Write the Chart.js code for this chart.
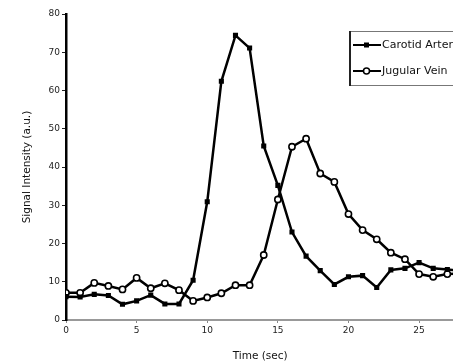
<!DOCTYPE html>
<html>
<head>
<meta charset="utf-8">
<script src="https://cdn.jsdelivr.net/npm/chart.js@4/dist/chart.umd.min.js"></script>
<style>
  html, body { margin: 0; padding: 0; background: #fff; overflow: hidden; }
  #wrap { width: 460px; height: 363px; position: relative; }
</style>
</head>
<body>
<div id="wrap"><canvas id="signal-chart"></canvas></div>
<script>
const timeSec = [0, 1, 2, 3, 4, 5, 6, 7, 8, 9, 10, 11, 12, 13, 14, 15, 16, 17, 18, 19, 20, 21, 22, 23, 24, 25, 26, 27, 28];
const carotid = [6.1, 6.0, 6.7, 6.4, 4.1, 5.0, 6.5, 4.2, 4.2, 10.4, 30.9, 62.4, 74.4, 71.1, 45.5, 35.2, 23.0, 16.7, 12.9, 9.3, 11.3, 11.6, 8.5, 13.1, 13.5, 15.0, 13.5, 13.2, 12.8];
const jugular = [7.1, 7.1, 9.7, 8.9, 8.0, 11.0, 8.3, 9.6, 7.8, 5.0, 5.9, 7.0, 9.1, 9.1, 17.0, 31.5, 45.3, 47.4, 38.3, 36.1, 27.7, 23.5, 21.1, 17.6, 15.9, 12.0, 11.3, 12.0, 12.2];
const xTicks = [0, 5, 10, 15, 20, 25];
const yTicks = [0, 10, 20, 30, 40, 50, 60, 70, 80];
const seriesNames = ["Carotid Artery", "Jugular Vein"];

const FONT = "'DejaVu Sans', Verdana, sans-serif";
const toPoints = vals => vals.map((v, i) => ({ x: timeSec[i], y: v }));

// legend box drawn by hand so it can run off the right edge
const boxLegend = {
  id: "boxLegend",
  afterDraw(chart) {
    const c = chart.ctx;
    const left = 349, top = 31, bottom = 85;
    c.save();
    c.fillStyle = "#fff";
    c.fillRect(left, top, 200, bottom - top);
    c.strokeStyle = "#777";
    c.lineWidth = 1;
    c.strokeRect(left + 0.5, top + 0.5, 200, bottom - top);
    c.strokeStyle = "#222";
    c.lineWidth = 2;
    c.beginPath();
    c.moveTo(left + 1, top);
    c.lineTo(left + 1, bottom + 1);
    c.stroke();
    chart.data.datasets.forEach((ds, i) => {
      const y = 45 + i * 26;
      c.strokeStyle = "#000";
      c.lineWidth = 2;
      c.beginPath();
      c.moveTo(353, y);
      c.lineTo(381, y);
      c.stroke();
      if (i === 0) {
        c.fillStyle = "#000";
        c.fillRect(364, y - 2.5, 5, 5);
      } else {
        c.fillStyle = "#fff";
        c.lineWidth = 1.5;
        c.beginPath();
        c.arc(366.5, y, 3, 0, Math.PI * 2);
        c.fill();
        c.stroke();
      }
      c.fillStyle = "#111";
      c.font = "11px " + FONT;
      c.textBaseline = "middle";
      c.fillText(ds.label, 382, y + 0.5);
    });
    c.restore();
  }
};

new Chart(document.getElementById("signal-chart"), {
  type: "line",
  data: {
    datasets: [
      {
        label: seriesNames[0],
        data: toPoints(carotid),
        borderColor: "#000",
        borderWidth: 2.5,
        pointStyle: "rect",
        pointRadius: 3.6,
        pointBackgroundColor: "#000",
        pointBorderWidth: 0,
        tension: 0
      },
      {
        label: seriesNames[1],
        data: toPoints(jugular),
        borderColor: "#000",
        borderWidth: 2.5,
        pointStyle: "circle",
        pointRadius: 3.1,
        pointBackgroundColor: "#fff",
        pointBorderColor: "#000",
        pointBorderWidth: 1.6,
        tension: 0
      }
    ]
  },
  options: {
    responsive: true,
    maintainAspectRatio: false,
    animation: false,
    layout: { padding: { top: 14, right: 0, left: 0, bottom: 0 } },
    plugins: { legend: { display: false }, tooltip: { enabled: false } },
    scales: {
      x: {
        type: "linear",
        min: 0,
        max: 27.5,
        afterBuildTicks: s => { s.ticks = xTicks.map(v => ({ value: v })); },
        afterFit: s => { s.height = 43; },
        grid: { drawOnChartArea: false, drawTicks: true, tickLength: 3, color: "#888", lineWidth: 1 },
        border: { color: "#999", width: 2 },
        ticks: { color: "#222", font: { family: FONT, size: 9 }, padding: 2, maxRotation: 0 },
        title: { display: true, text: "Time (sec)", color: "#111", font: { family: FONT, size: 10.5 }, padding: { top: 6, bottom: 0 } }
      },
      y: {
        min: 0,
        max: 80,
        afterBuildTicks: s => { s.ticks = yTicks.map(v => ({ value: v })); },
        afterFit: s => { s.width = 66; },
        grid: { drawOnChartArea: false, drawTicks: true, tickLength: 4, color: "#222", lineWidth: 1 },
        border: { color: "#000", width: 2.5 },
        ticks: { color: "#222", font: { family: FONT, size: 9 }, padding: 2 },
        title: { display: true, text: "Signal Intensity (a.u.)", color: "#111", font: { family: FONT, size: 10.5 }, padding: { top: 21, bottom: 0 } }
      }
    }
  },
  plugins: [boxLegend]
});
</script>
</body>
</html>
